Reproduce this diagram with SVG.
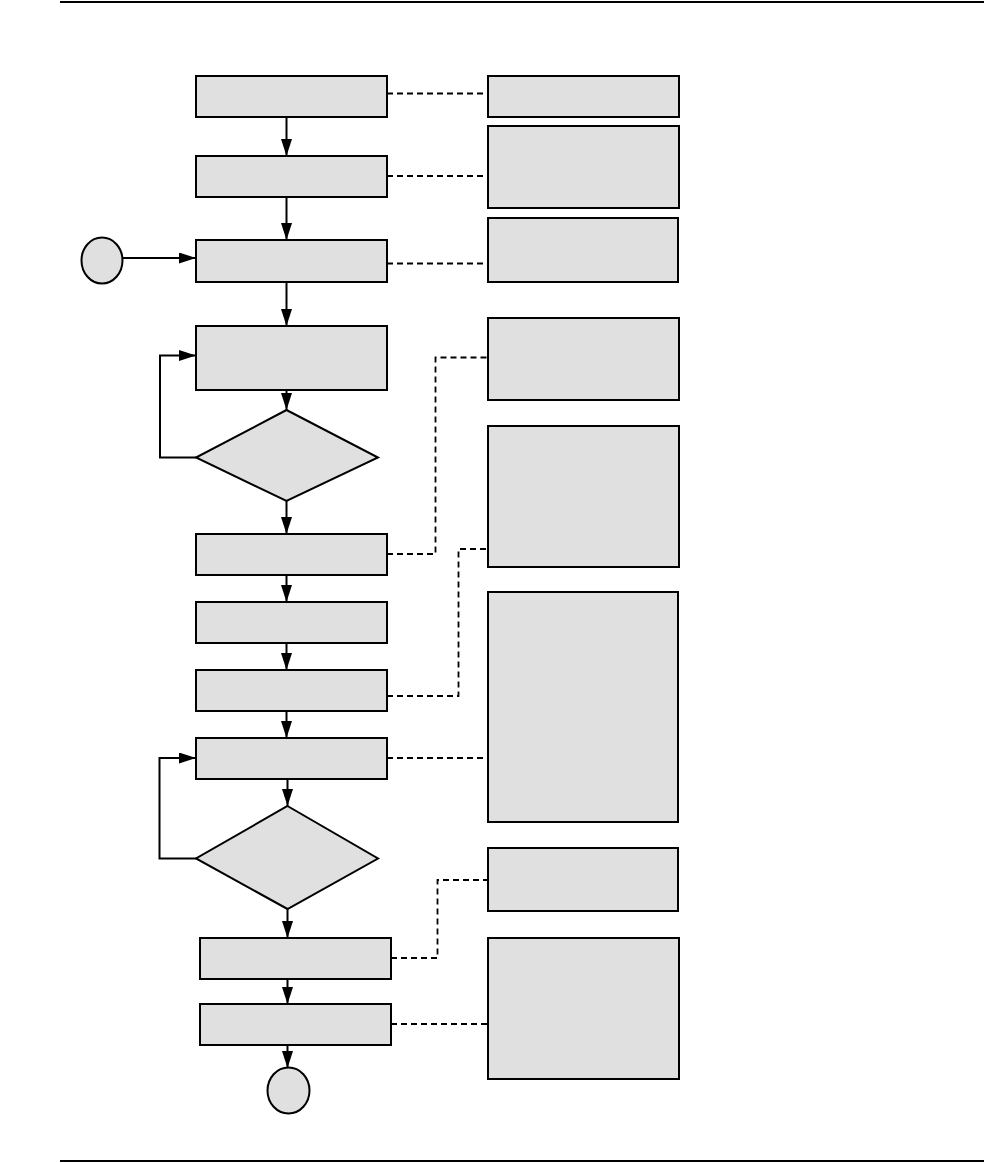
<svg xmlns="http://www.w3.org/2000/svg" width="984" height="1163" viewBox="0 0 984 1163">
<style>
.n{fill:#e0e0e0;stroke:#000;stroke-width:2}
.c{fill:none;stroke:#000;stroke-width:2}
.d{fill:none;stroke:#000;stroke-width:1.8;stroke-dasharray:6 4}
.rule{stroke:#000;stroke-width:2}
</style>
<defs>
<marker id="ah" markerWidth="17" markerHeight="11" refX="17" refY="5.5" orient="auto" markerUnits="userSpaceOnUse">
<path d="M0,0 L17,5.5 L0,11 Z" fill="#000"/>
</marker>
</defs>
<rect width="984" height="1163" fill="#fff"/>
<line class="rule" x1="60" y1="2" x2="984" y2="2"/>
<line class="rule" x1="60" y1="1161" x2="984" y2="1161"/>
<g id="connectors">
<line class="c" x1="286.5" y1="117" x2="286.5" y2="156" marker-end="url(#ah)"/>
<line class="c" x1="286.5" y1="197" x2="286.5" y2="240" marker-end="url(#ah)"/>
<line class="c" x1="123" y1="258" x2="196" y2="258" marker-end="url(#ah)"/>
<line class="c" x1="286.5" y1="282" x2="286.5" y2="326" marker-end="url(#ah)"/>
<line class="c" x1="286.5" y1="390" x2="286.5" y2="410" marker-end="url(#ah)"/>
<polyline class="c" points="196,457.5 160,457.5 160,355.5 196,355.5" marker-end="url(#ah)"/>
<line class="c" x1="286.5" y1="501" x2="286.5" y2="534" marker-end="url(#ah)"/>
<line class="c" x1="286.5" y1="575" x2="286.5" y2="602" marker-end="url(#ah)"/>
<line class="c" x1="286.5" y1="643" x2="286.5" y2="670" marker-end="url(#ah)"/>
<line class="c" x1="286.5" y1="711" x2="286.5" y2="738" marker-end="url(#ah)"/>
<line class="c" x1="287.5" y1="779" x2="287.5" y2="806" marker-end="url(#ah)"/>
<polyline class="c" points="196,858.5 159.5,858.5 159.5,758 196,758" marker-end="url(#ah)"/>
<line class="c" x1="287.5" y1="909" x2="287.5" y2="938" marker-end="url(#ah)"/>
<line class="c" x1="287.5" y1="979" x2="287.5" y2="1004" marker-end="url(#ah)"/>
<line class="c" x1="287.5" y1="1045" x2="287.5" y2="1068" marker-end="url(#ah)"/>
<line class="d" x1="387" y1="93.5" x2="488" y2="93.5"/>
<line class="d" x1="387" y1="176" x2="488" y2="176"/>
<line class="d" x1="387" y1="263.5" x2="488" y2="263.5"/>
<polyline class="d" points="387,554 435.5,554 435.5,357.5 488,357.5"/>
<polyline class="d" points="387,696 458.5,696 458.5,549 488,549"/>
<line class="d" x1="387" y1="758" x2="488" y2="758"/>
<polyline class="d" points="391,958 437.5,958 437.5,880 488,880"/>
<line class="d" x1="391" y1="1024" x2="488" y2="1024"/>
</g>
<g id="start"><ellipse class="n" cx="102" cy="260.5" rx="20.5" ry="23"/></g>
<g id="box1"><rect class="n" x="196" y="76" width="191" height="41"/></g>
<g id="box2"><rect class="n" x="196" y="156" width="191" height="41"/></g>
<g id="box3"><rect class="n" x="196" y="240" width="191" height="42"/></g>
<g id="box4"><rect class="n" x="196" y="326" width="191" height="64"/></g>
<g id="dec1"><polygon class="n" points="286.5,410 378,457.5 286.5,501 196,457.5"/></g>
<g id="box5"><rect class="n" x="196" y="534" width="191" height="41"/></g>
<g id="box6"><rect class="n" x="196" y="602" width="191" height="41"/></g>
<g id="box7"><rect class="n" x="196" y="670" width="191" height="41"/></g>
<g id="box8"><rect class="n" x="196" y="738" width="191" height="41"/></g>
<g id="dec2"><polygon class="n" points="287.5,806 378,858.5 287.5,909 196,858.5"/></g>
<g id="box9"><rect class="n" x="200" y="938" width="191" height="41"/></g>
<g id="box10"><rect class="n" x="200" y="1004" width="191" height="41"/></g>
<g id="end"><ellipse class="n" cx="288.5" cy="1090.5" rx="21" ry="23"/></g>
<g id="note1"><rect class="n" x="488" y="76" width="191" height="41"/></g>
<g id="note2"><rect class="n" x="488" y="126" width="191" height="82"/></g>
<g id="note3"><rect class="n" x="488" y="218" width="190" height="64"/></g>
<g id="note4"><rect class="n" x="488" y="318" width="191" height="82"/></g>
<g id="note5"><rect class="n" x="488" y="426" width="191" height="141"/></g>
<g id="note6"><rect class="n" x="488" y="592" width="190" height="230"/></g>
<g id="note7"><rect class="n" x="488" y="848" width="190" height="63"/></g>
<g id="note8"><rect class="n" x="488" y="938" width="191" height="141"/></g>
</svg>
